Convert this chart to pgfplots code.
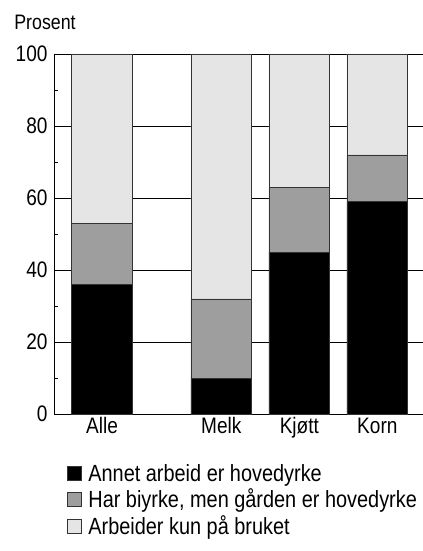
\documentclass[border=0pt]{standalone}
\usepackage{pgfplots}
\pgfplotsset{compat=1.18}
\usepackage{pgfplotstable}
\usepackage{fontspec}
\setmainfont{Liberation Sans}[FakeStretch=0.85]
\definecolor{cdark}{gray}{0.0}
\definecolor{cmid}{gray}{0.62}
\definecolor{clight}{gray}{0.90}
\pgfplotstableread{
x Annet Har Arb
0 36 17 47
1.53 10 22 68
2.53 45 18 37
3.53 59 13 28
}\datatable
\begin{document}
\begin{tikzpicture}
\begin{axis}[
  name=ax,
  scale only axis,
  width=369bp, height=360bp,
  xmin=-0.615, xmax=4.115,
  ymin=0, ymax=100,
  ybar stacked,
  bar width=0.78,
  axis y line*=left,
  xtick={0,1.53,2.53,3.53},
  xticklabels={Alle,Melk,Kjøtt,Korn},
  x tick style={draw=none},
  ytick={0,20,...,100},
  minor ytick={10,30,50,70,90},
  ymajorgrids,
  major grid style={black, line width=0.8pt},
  y tick style={black, line width=0.6pt},
  major tick length=0pt,
  minor tick length=4bp,
  tick align=inside,
  axis line style={black, line width=0.9pt},
  tick label style={font=\fontsize{22.5}{26}\selectfont},
  /pgf/number format/assume math mode=true,
  yticklabel style={xshift=-3bp},
  xticklabel style={text height=16bp, text depth=5bp, yshift=0bp},
  legend style={at={(0.035,-0.133)}, anchor=north west, draw=none, fill=none,
    font=\fontsize{23.5}{26}\selectfont, row sep=2.5bp, inner sep=0pt},
  legend cell align=left,
  legend image code/.code={\draw[#1, draw=black!80, line width=0.6pt] (0bp,-7bp) rectangle (14bp,7bp); \path[draw=none, fill=none] (0bp,0bp) -- (19bp,0bp);},
  clip=false,
]
\addplot[fill=cdark, draw=black!80, line width=0.6pt] table[x=x, y=Annet] {\datatable};
\addplot[fill=cmid, draw=black!80, line width=0.6pt] table[x=x, y=Har] {\datatable};
\addplot[fill=clight, draw=black!80, line width=0.6pt] table[x=x, y=Arb] {\datatable};
\legend{Annet arbeid er hovedyrke, {Har biyrke, men gården er hovedyrke}, Arbeider kun på bruket}
\node[anchor=base west, font=\fontsize{21}{24}\selectfont, inner sep=0pt] at (rel axis cs:-0.108,1.067) {Prosent};
\end{axis}
\pgfresetboundingbox
\path ([xshift=-54bp, yshift=-137bp]ax.south west) rectangle ([yshift=54bp]ax.north east);
\end{tikzpicture}
\end{document}
